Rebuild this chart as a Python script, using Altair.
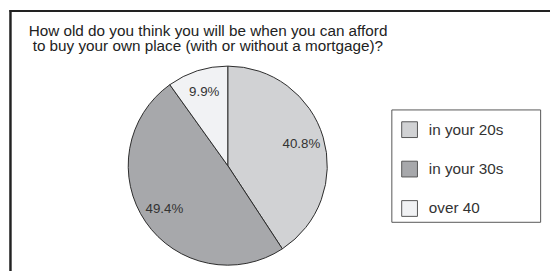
import altair as alt
import pandas as pd

TITLE_LINES = [
    "How old do you think you will be when you can afford",
    "to buy your own place (with or without a mortgage)?",
]
CATEGORIES = ["in your 20s", "in your 30s", "over 40"]
SHARES = [40.8, 49.4, 9.9]
LABELS = ["40.8%", "49.4%", "9.9%"]
COLORS = ["#d1d2d4", "#a7a8ab", "#f1f2f4"]

df = pd.DataFrame({
    "category": CATEGORIES,
    "share": SHARES,
    "label": LABELS,
    "idx": list(range(len(CATEGORIES))),
})
one = pd.DataFrame({"k": [0]})

W, H = 550, 265
CX, CY, R = 223, 158, 101
FONT = "Liberation Sans"

base = alt.Chart(df).encode(
    theta=alt.Theta("share:Q", stack=True),
    order=alt.Order("idx:Q"),
)

pie = base.mark_arc(radius=R, stroke="#2b2b2b", strokeWidth=1).encode(
    x=alt.value(CX),
    y=alt.value(CY),
    color=alt.Color(
        "category:N",
        scale=alt.Scale(domain=CATEGORIES, range=COLORS),
        legend=alt.Legend(
            title=None,
            orient="none",
            legendX=399,
            legendY=113,
            symbolType="square",
            symbolSize=256,
            symbolStrokeColor="#555555",
            symbolStrokeWidth=1,
            symbolOpacity=1,
            labelFont=FONT,
            labelFontSize=15.5,
            labelColor="#333333",
            labelOffset=11,
            rowPadding=19,
            padding=0,
        ),
    ),
)

labels = base.mark_text(radius=78, font=FONT, fontSize=13.5, color="#333333").encode(
    x=alt.value(CX),
    y=alt.value(CY),
    text="label:N",
)

legend_box = alt.Chart(one).mark_rect(fill="white", stroke="#555555", strokeWidth=1).encode(
    x=alt.value(389.5), x2=alt.value(540.5), y=alt.value(101.5), y2=alt.value(215.5)
)

frame_left = alt.Chart(one).mark_rule(color="#222222", strokeWidth=2.5).encode(
    x=alt.value(2.5), y=alt.value(0), y2=alt.value(H)
)
frame_top = alt.Chart(one).mark_rule(color="#222222", strokeWidth=2).encode(
    x=alt.value(1.5), x2=alt.value(W), y=alt.value(1)
)

title_style = dict(align="left", baseline="alphabetic", font=FONT, fontSize=15.5, color="#222222")
title1 = alt.Chart(one).mark_text(**title_style).encode(
    x=alt.value(21), y=alt.value(26), text=alt.value(TITLE_LINES[0])
)
title2 = alt.Chart(one).mark_text(**title_style).encode(
    x=alt.value(25), y=alt.value(42), text=alt.value(TITLE_LINES[1])
)

chart = alt.layer(
    frame_left, frame_top, legend_box, pie, labels, title1, title2
).properties(
    width=W, height=H, autosize="none", padding=0, background="white"
).configure_view(stroke=None)

chart.save("out.html", embed_options={"renderer": "svg", "actions": False})
